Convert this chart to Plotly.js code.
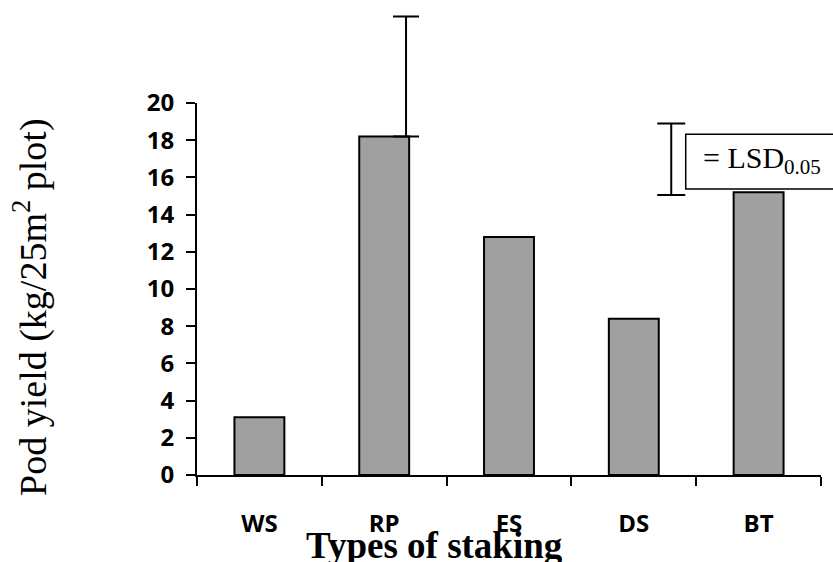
<!DOCTYPE html>
<html>
<head>
<meta charset="utf-8">
<script src="https://cdn.plot.ly/plotly-3.0.1.min.js"></script>
<style>html,body{margin:0;padding:0;background:#fff;}#chart{width:833px;height:562px;}</style>
</head>
<body>
<div id="chart"></div>
<script>
// ---- data ----
const categories = ["WS", "RP", "ES", "DS", "BT"];
const podYield = [3.1, 18.2, 12.8, 8.4, 15.2];
// error bar drawn beside the RP bar in the original
const rpErrX = [1.175];
const rpErrY = [18.2];
const rpErrPlus = [6.45];
// LSD(0.05) key bar
const lsdX = [3.30];
const lsdBase = [15.05];
const lsdValue = [3.85];
const yTicks = [0, 2, 4, 6, 8, 10, 12, 14, 16, 18, 20];

const bars = {
  type: "bar",
  x: categories,
  y: podYield,
  width: 0.4,
  marker: {color: "#a0a0a0", line: {color: "#000", width: 2}},
  hoverinfo: "skip",
  showlegend: false
};
const rpErr = {
  type: "scatter", mode: "markers",
  x: rpErrX, y: rpErrY, xaxis: "x2", yaxis: "y2",
  marker: {size: 1, opacity: 0},
  error_y: {type: "data", symmetric: false, array: rpErrPlus, arrayminus: [0], color: "#000", thickness: 2, width: 13},
  cliponaxis: false, showlegend: false, hoverinfo: "skip"
};
const lsd = {
  type: "scatter", mode: "markers",
  x: lsdX, y: lsdBase, xaxis: "x2", yaxis: "y2",
  marker: {size: 1, opacity: 0},
  error_y: {type: "data", symmetric: false, array: lsdValue, arrayminus: [0], color: "#000", thickness: 2, width: 14},
  cliponaxis: false, showlegend: false, hoverinfo: "skip"
};

const tickFont = {family: "Open Sans, Lato, sans-serif", size: 24, color: "#000", weight: 700};

const layout = {
  width: 833, height: 562,
  margin: {l: 197, r: 12, t: 10, b: 87, pad: 0},
  paper_bgcolor: "#fff", plot_bgcolor: "rgba(0,0,0,0)",
  bargap: 0.6,
  xaxis: {
    type: "category",
    tickson: "boundaries",
    range: [-0.5, 4.5],
    domain: [0, 1], anchor: "y",
    showline: true, linecolor: "#000", linewidth: 2,
    ticks: "outside", ticklen: 9, tickwidth: 2, tickcolor: "#000",
    tickfont: tickFont, ticklabelstandoff: 26,
    showgrid: false, zeroline: false, fixedrange: true
  },
  yaxis: {
    range: [0, 20],
    domain: [0, 0.8], anchor: "x",
    tickvals: yTicks,
    showline: true, linecolor: "#000", linewidth: 2,
    ticks: "outside", ticklen: 9, tickwidth: 2, tickcolor: "#000",
    tickfont: tickFont, ticklabelstandoff: 7,
    showgrid: false, zeroline: false, fixedrange: true
  },
  xaxis2: {
    type: "linear", range: [-0.5, 4.5], domain: [0, 1], anchor: "y2",
    visible: false, fixedrange: true
  },
  yaxis2: {
    type: "linear", range: [0, 25], domain: [0, 1], anchor: "x2",
    visible: false, fixedrange: true
  },
  shapes: [{
    type: "rect", xref: "paper", yref: "paper",
    x0: 0.7832, x1: 1.05, y0: 0.6150, y1: 0.7327,
    line: {color: "#000", width: 1.5}, fillcolor: "#fff", layer: "above"
  }],
  annotations: [
    {
      xref: "paper", yref: "paper", x: 0.9054, y: 0.678,
      xanchor: "center", yanchor: "middle", showarrow: false,
      text: "= LSD<sub>0.05</sub>",
      font: {family: "Liberation Serif, Times New Roman, serif", size: 30, color: "#000"}
    },
    {
      xref: "paper", yref: "paper", x: 0.3806, y: -0.152,
      xanchor: "center", yanchor: "middle", showarrow: false,
      text: "<b>Types of staking</b>",
      font: {family: "Liberation Serif, Times New Roman, serif", size: 37, color: "#000"}
    },
    {
      xref: "paper", yref: "paper", x: -0.268, y: 0.361,
      xanchor: "center", yanchor: "middle", showarrow: false, textangle: -90,
      text: "Pod yield (kg/25m<sup>2</sup> plot)",
      font: {family: "Liberation Serif, Times New Roman, serif", size: 38, color: "#000"}
    }
  ]
};

Plotly.newPlot("chart", [bars, rpErr, lsd], layout, {displayModeBar: false, staticPlot: true});
</script>
</body>
</html>
